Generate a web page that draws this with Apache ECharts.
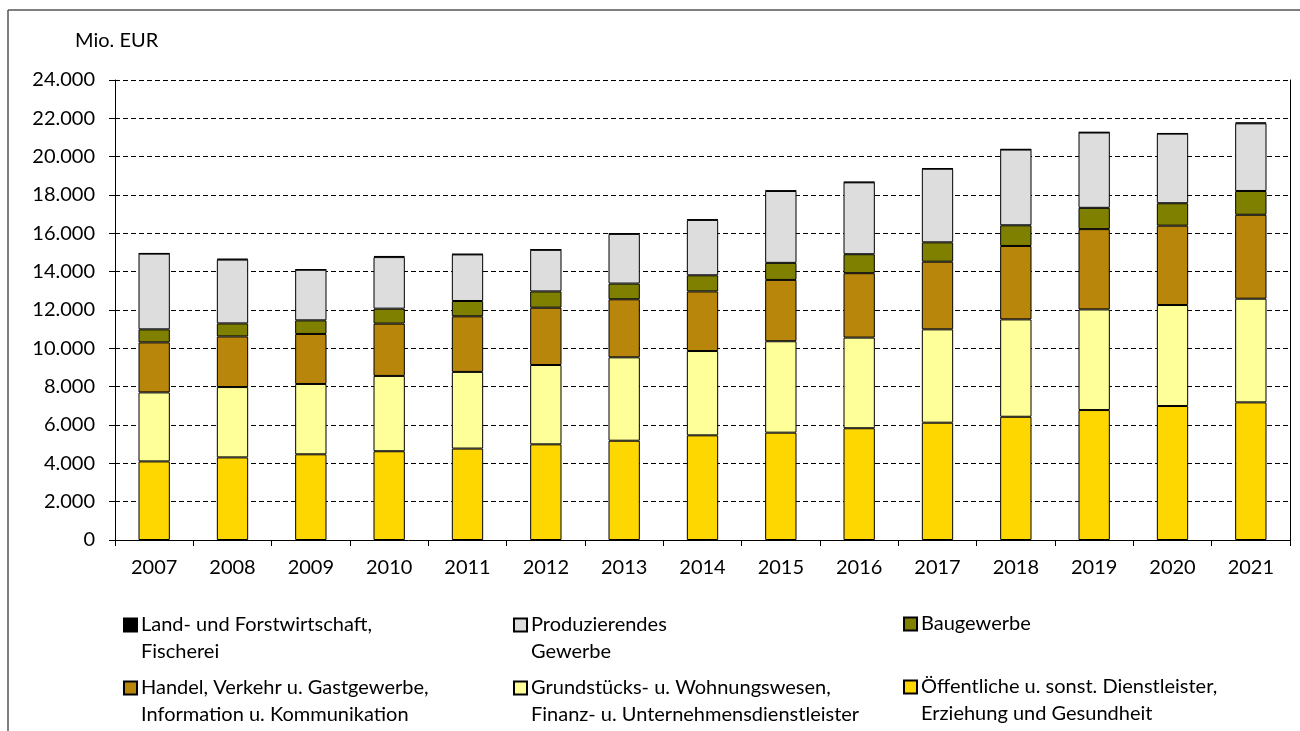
<!DOCTYPE html>
<html>
<head>
<meta charset="utf-8">
<script src="https://cdn.jsdelivr.net/npm/echarts@6/dist/echarts.min.js"></script>
<style>
html,body{margin:0;padding:0;background:#fff;}
#chart{width:1300px;height:731px;}
</style>
</head>
<body>
<div id="chart"></div>
<script>
const years = ['2007','2008','2009','2010','2011','2012','2013','2014','2015','2016','2017','2018','2019','2020','2021'];
const oeffentliche = [4100,4310,4470,4630,4770,4990,5180,5460,5600,5830,6120,6430,6780,6990,7180];
const grundstuecke = [3600,3670,3670,3930,4000,4140,4350,4400,4770,4730,4870,5080,5250,5270,5410];
const handel       = [2610,2640,2610,2730,2900,2990,3030,3110,3200,3360,3530,3830,4190,4140,4380];
const baugewerbe   = [680,680,710,780,800,850,820,840,890,990,1010,1080,1110,1170,1240];
const produzierend = [3950,3330,2640,2690,2430,2170,2590,2890,3750,3750,3840,3950,3930,3630,3530];
const landforst    = [20,40,20,60,20,20,40,30,25,25,20,20,20,20,40];
const yTicks = [0,2000,4000,6000,8000,10000,12000,14000,16000,18000,20000,22000,24000];

const seriesDefs = [
  {name:'Öffentliche u. sonst. Dienstleister, Erziehung und Gesundheit', l1:'Öffentliche u. sonst. Dienstleister,', l2:'Erziehung und Gesundheit', data:oeffentliche, color:'#FFD700'},
  {name:'Grundstücks- u. Wohnungswesen, Finanz- u. Unternehmensdienstleister', l1:'Grundstücks- u. Wohnungswesen,', l2:'Finanz- u. Unternehmensdienstleister', data:grundstuecke, color:'#FFFF99'},
  {name:'Handel, Verkehr u. Gastgewerbe, Information u. Kommunikation', l1:'Handel, Verkehr u. Gastgewerbe,', l2:'Information u. Kommunikation', data:handel, color:'#B8860B'},
  {name:'Baugewerbe', l1:'Baugewerbe', l2:'', data:baugewerbe, color:'#808000'},
  {name:'Produzierendes Gewerbe', l1:'Produzierendes', l2:'Gewerbe', data:produzierend, color:'#DDDDDD'},
  {name:'Land- und Forstwirtschaft, Fischerei', l1:'Land- und Forstwirtschaft,', l2:'Fischerei', data:landforst, color:'#000000'}
];

// legend layout: [seriesIndex, left, top]
const legendPos = [
  [5, 123, 612], [4, 513, 612], [3, 903, 611],
  [2, 123, 675], [1, 513, 675], [0, 903, 674]
];

const FONT = 'Lato, "Open Sans", sans-serif';
const LFS = 20;
const AFS = 20;
const firstLine = {};
seriesDefs.forEach(s => firstLine[s.name] = s.l1);

const legends = legendPos.map(p => ({
  data:[seriesDefs[p[0]].name],
  left:p[1], top:p[2],
  padding:0,
  itemWidth:13, itemHeight:13, itemGap:0,
  icon:'rect',
  formatter: n => firstLine[n],
  textStyle:{fontFamily:FONT, fontSize:LFS, lineHeight:26, color:'#000', padding:[0,0,0,-1]},
  selectedMode:false
}));

const secondLines = legendPos.filter(p => seriesDefs[p[0]].l2).map(p => ({
  type:'text', left:p[1]+18, top:p[2]+27,
  style:{text:seriesDefs[p[0]].l2, font:LFS + 'px ' + FONT, lineHeight:26, fill:'#000'}
}));

const chart = echarts.init(document.getElementById('chart'));
chart.setOption({
  animation:false,
  backgroundColor:'#fff',
  grid:{left:115, right:10, top:80, bottom:191, containLabel:false},
  legend:legends,
  xAxis:{
    type:'category', data:years,
    axisLine:{lineStyle:{color:'#000', width:1}},
    axisTick:{show:true, length:6, alignWithLabel:false, lineStyle:{color:'#000'}},
    axisLabel:{fontFamily:FONT, fontSize:AFS, color:'#000', margin:18}
  },
  yAxis:[{
    type:'value', min:yTicks[0], max:yTicks[yTicks.length-1], interval:yTicks[1]-yTicks[0],
    axisLine:{show:true, lineStyle:{color:'#000', width:1}},
    axisTick:{show:true, length:6, lineStyle:{color:'#000'}},
    axisLabel:{fontFamily:FONT, fontSize:AFS, color:'#000', margin:20,
      formatter: v => v.toLocaleString('de-DE')},
    splitLine:{show:true, lineStyle:{color:'#000', type:[5,3], width:1}}
  },{
    type:'value', position:'right', min:0, max:24000, interval:2000,
    axisLine:{show:true, lineStyle:{color:'#000', width:1}},
    axisTick:{show:false}, axisLabel:{show:false}, splitLine:{show:false}
  }],
  series: seriesDefs.map(s => ({
    name:s.name, type:'bar', stack:'total', data:s.data,
    barWidth:'40%',
    itemStyle:{color:s.color, borderColor:'#000', borderWidth:1}
  })),
  graphic:[
    {type:'text', left:75, top:31, style:{text:'Mio. EUR', font:'20px ' + FONT, fill:'#000'}},
    {type:'line', shape:{x1:8, y1:10, x2:1300, y2:10}, style:{stroke:'#555', lineWidth:1.5}},
    {type:'line', shape:{x1:8, y1:10, x2:8, y2:731}, style:{stroke:'#555', lineWidth:1.5}}
  ].concat(secondLines)
});
</script>
</body>
</html>
